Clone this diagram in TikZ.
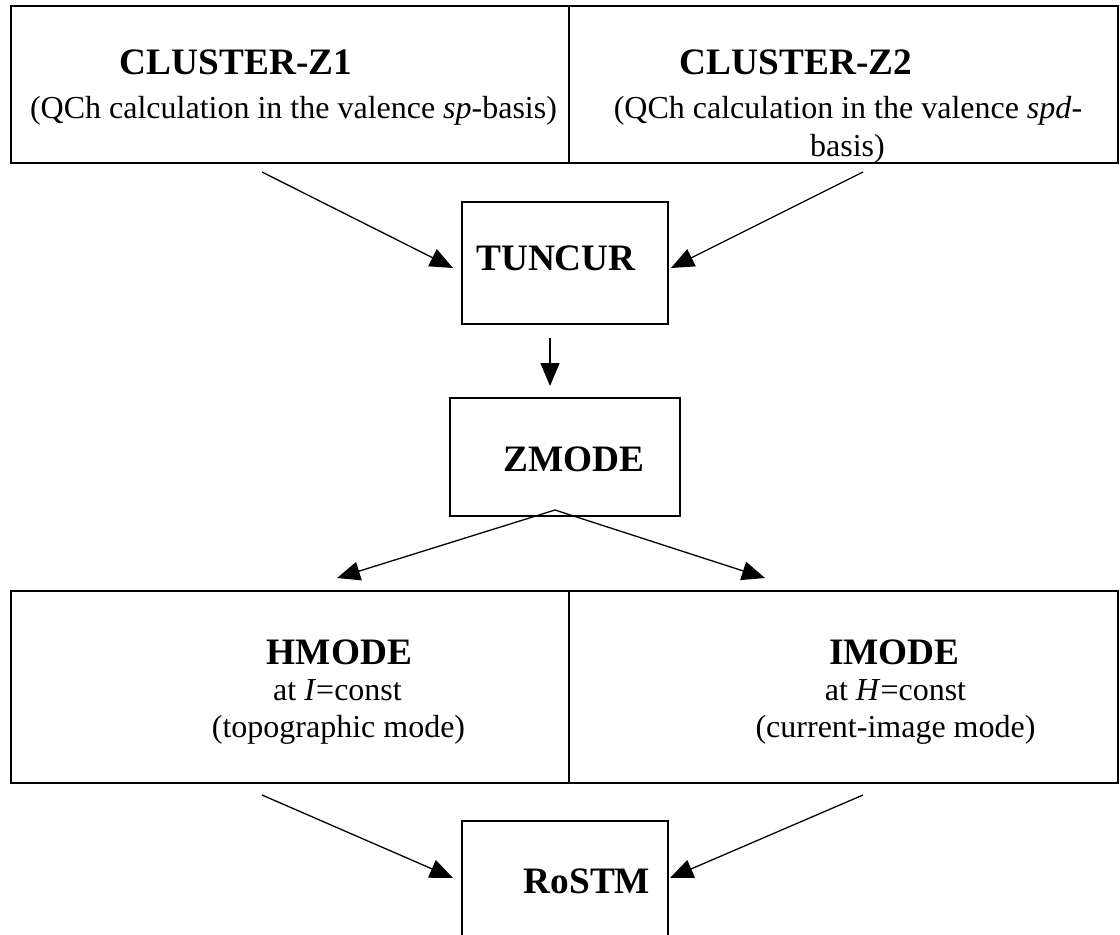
\documentclass[tikz,border=0pt]{standalone}
\usepackage{fontspec}
\setmainfont{Liberation Serif}
\usetikzlibrary{arrows.meta}
\begin{document}
\begin{tikzpicture}[x=1pt,y=-1pt,
  box/.style={draw, line width=1.8pt, inner sep=0pt},
  head/.style={font=\fontsize{37.3}{43}\selectfont\bfseries, inner sep=0pt, anchor=base},
  body/.style={font=\fontsize{32}{37}\selectfont, inner sep=0pt, anchor=base},
  arr/.style={line width=1.3pt, -{Triangle[length=23pt,width=19pt]}}]
\useasboundingbox (0,0) rectangle (1120,935);
\clip (0,0) rectangle (1120,935);
% top table
\node[box, minimum width=558pt, minimum height=157pt] (z1) at (290,84.5) {};
\node[box, minimum width=549pt, minimum height=157pt] (z2) at (843.5,84.5) {};
\node[head] (z1h) at (236,74) {CLUSTER-Z1};
\node[body] (z1b) at (293.5,118) {(QCh calculation in the valence \textit{sp}-basis)};
\node[head] (z2h) at (796,74) {CLUSTER-Z2};
\node[body] (z2b) at (848,118) {(QCh calculation in the valence \textit{spd}-};
\node[body] (z2c) at (847.5,156) {basis)};
% middle boxes
\node[box, minimum width=206pt, minimum height=122pt] (tun) at (565,263) {};
\node[head] (tunt) at (556,270) {TUNCUR};
\node[box, minimum width=230pt, minimum height=118pt] (zm) at (565,457) {};
\node[head] (zmt) at (574,471) {ZMODE};
% bottom table
\node[box, minimum width=558pt, minimum height=192pt] (hm) at (290,687) {};
\node[box, minimum width=549pt, minimum height=192pt] (im) at (843.5,687) {};
\node[head] (hmh) at (339.5,664) {HMODE};
\node[body] (hmb) at (337.5,700) {at \textit{I}=const};
\node[body] (hmc) at (338.5,737) {(topographic mode)};
\node[head] (imh) at (894.5,664) {IMODE};
\node[body] (imb) at (895.5,700) {at \textit{H}=const};
\node[body] (imc) at (895.5,737) {(current-image mode)};
% RoSTM
\node[box, minimum width=206pt, minimum height=139pt] (ro) at (565,890.5) {};
\node[head] (rot) at (587,893) {RoSTM};
% connector end points
\coordinate (s1) at (262,172); \coordinate (t1) at (453,268);
\coordinate (s2) at (863,172); \coordinate (t2) at (671,268);
\coordinate (s3) at (550,338); \coordinate (t3) at (550,386);
\coordinate (s4) at (555,510); \coordinate (t4) at (337,578);
\coordinate (t5) at (765,578);
\coordinate (s6) at (262,795); \coordinate (t6) at (453,878);
\coordinate (s7) at (863,795); \coordinate (t7) at (670,878);
\draw[arr] (s1) -- (t1);
\draw[arr] (s2) -- (t2);
\draw[arr] (s3) -- (t3);
\draw[arr] (s4) -- (t4);
\draw[arr] (s4) -- (t5);
\draw[arr] (s6) -- (t6);
\draw[arr] (s7) -- (t7);
\end{tikzpicture}
\end{document}
